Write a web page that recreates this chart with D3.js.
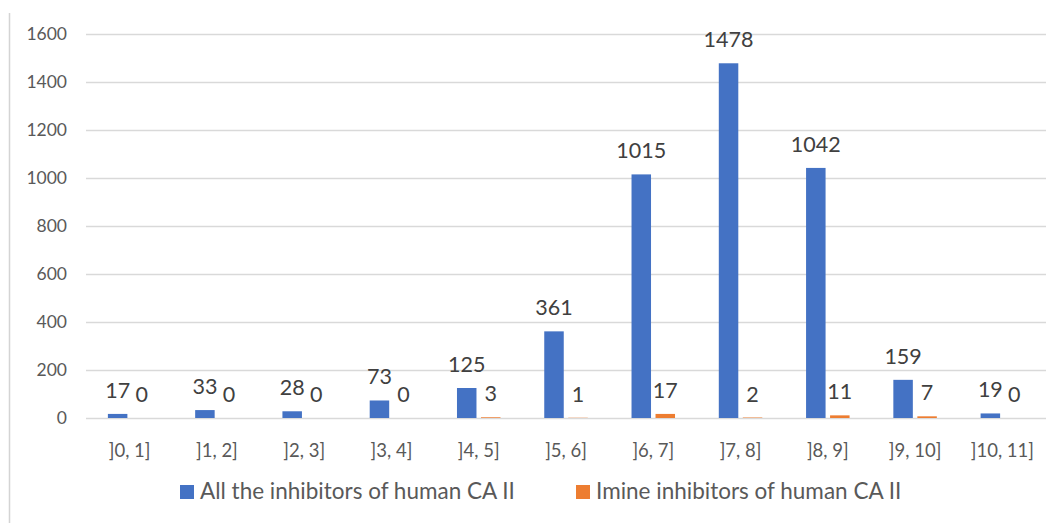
<!DOCTYPE html>
<html><head><meta charset="utf-8">
<script src="https://cdn.jsdelivr.net/npm/d3@7"></script>
<style>html,body{margin:0;padding:0;background:#fff;}svg{display:block;font-family:Lato,"Open Sans",sans-serif;}</style>
</head><body>
<svg id="c" width="1056" height="523"></svg>
<script>
const categories = ["]0, 1]","]1, 2]","]2, 3]","]3, 4]","]4, 5]","]5, 6]","]6, 7]","]7, 8]","]8, 9]","]9, 10]","]10, 11]"];
const allInhibitors = [17,33,28,73,125,361,1015,1478,1042,159,19];
const imineInhibitors = [0,0,0,0,3,1,17,2,11,7,0];
const seriesNames = ["All the inhibitors of human CA II","Imine inhibitors of human CA II"];
const yTicks = [0,200,400,600,800,1000,1200,1400,1600];
const colors = ["#4472C4","#ED7D31"];

const svg = d3.select("#c");
const m = {l:86, r:1046, t:34, b:418};
const x = d3.scaleBand().domain(categories).range([m.l, m.r]).paddingInner(0).paddingOuter(0);
const y = d3.scaleLinear().domain([0,1600]).range([m.b, m.t]);
const series = [allInhibitors, imineInhibitors];
const bw = 19.5, gap = 4.5;

// left border
svg.append("line").attr("x1",9.5).attr("x2",9.5).attr("y1",13).attr("y2",523).attr("stroke","#d4d4d4").attr("stroke-width",1.5);

// gridlines + y labels
const ya = d3.axisLeft(y).tickValues(yTicks).tickFormat(d3.format("d")).tickSize(-(m.r-m.l)).tickPadding(19);
const g = svg.append("g").attr("transform",`translate(${m.l},0)`).call(ya);
g.select(".domain").remove();
g.selectAll(".tick line").attr("stroke","#d9d9d9").attr("stroke-width",1.3);
g.selectAll(".tick text").attr("fill","#595959").style("font-size","17.5px").style("font-family","Lato, sans-serif");

// x axis labels
const xa = d3.axisBottom(x).tickSize(0).tickPadding(26);
const gx = svg.append("g").attr("transform",`translate(0,${m.b})`).call(xa);
gx.select(".domain").remove();
gx.selectAll(".tick text").attr("fill","#595959").style("font-size","18.5px").style("font-family","Lato, sans-serif");

series.forEach((vals, si) => {
  const off = si === 0 ? -gap/2 - bw : gap/2;
  const cx = c => x(c) + x.bandwidth()/2 + off;
  svg.append("g").selectAll("rect").data(categories).join("rect")
    .attr("x", c => cx(c))
    .attr("width", bw)
    .attr("y", (c,i) => y(vals[i]))
    .attr("height", (c,i) => y(0) - y(vals[i]))
    .attr("fill", colors[si]);
  svg.append("g").selectAll("text").data(categories).join("text")
    .attr("x", c => cx(c) + bw/2)
    .attr("y", (c,i) => y(vals[i]) - 16)
    .attr("text-anchor","middle")
    .attr("fill","#404040")
    .style("font-size","21.5px")
    .text((c,i) => vals[i]);
});

// legend
const legend = [{x:180, name:seriesNames[0], color:colors[0]},{x:576, name:seriesNames[1], color:colors[1]}];
legend.forEach(d => {
  svg.append("rect").attr("x",d.x).attr("y",485).attr("width",14).attr("height",14).attr("fill",d.color);
  svg.append("text").attr("x",d.x+20).attr("y",499).attr("fill","#595959").style("font-size","22.5px").text(d.name);
});
</script>
</body></html>
